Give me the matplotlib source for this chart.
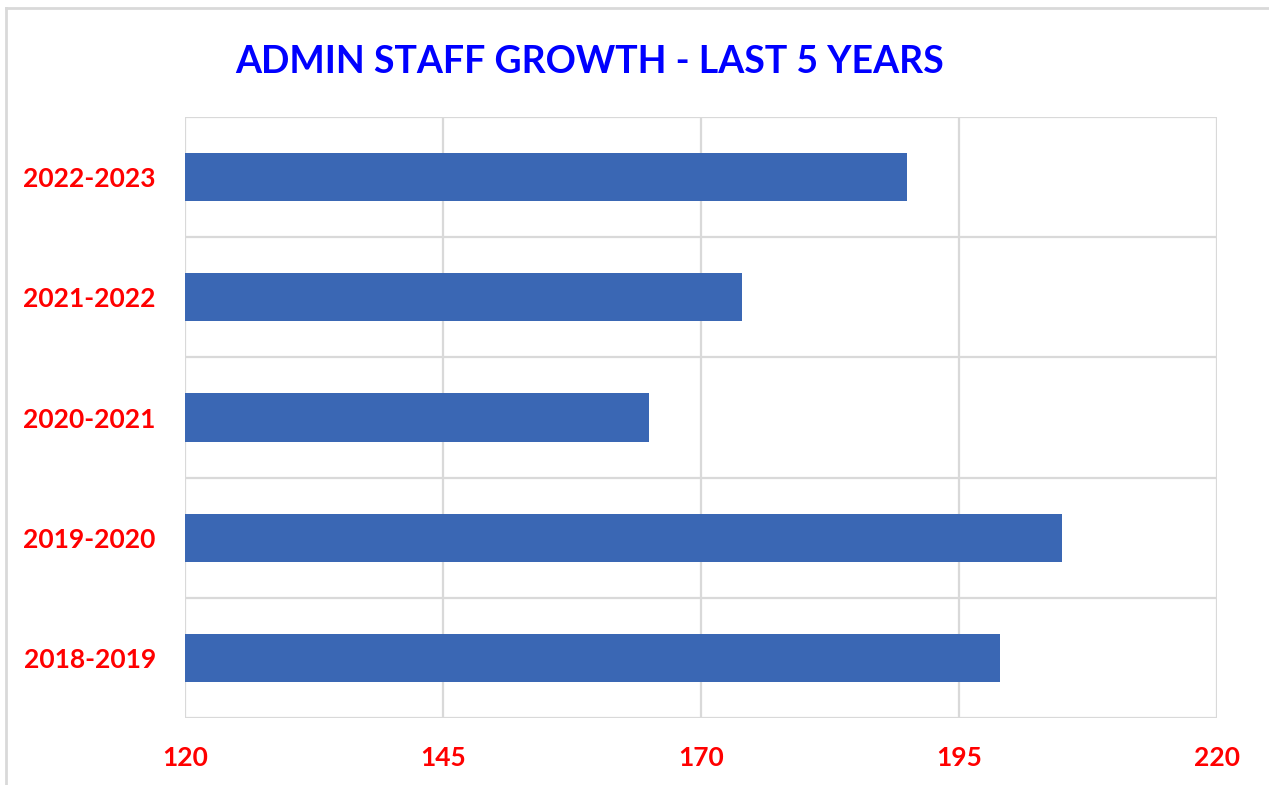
import matplotlib
matplotlib.use("Agg")
import matplotlib.pyplot as plt
from matplotlib.lines import Line2D

# values
years = ['2018-2019', '2019-2020', '2020-2021', '2021-2022', '2022-2023']
staff = [199, 205, 165, 174, 190]
xticks = [120, 145, 170, 195, 220]

plt.rcParams['font.family'] = ['Lato', 'DejaVu Sans']

fig = plt.figure(figsize=(12.69, 7.85), dpi=100)
ax = fig.add_axes([185/1269, 1-718/785, (1217-185)/1269, (718-117)/785])

ax.barh(years, staff, height=0.4, color='#3A67B4', zorder=3)
ax.set_xlim(120, 220)
ax.set_ylim(-0.5, 4.5)
ax.set_xticks(xticks)

# gridlines: vertical at ticks, horizontal between categories
for x in xticks:
    ax.axvline(x, color='#D9D9D9', lw=1.6, zorder=1)
for y in [-0.5, 0.5, 1.5, 2.5, 3.5, 4.5]:
    ax.axhline(y, color='#D9D9D9', lw=1.6, zorder=1)
for s in ax.spines.values():
    s.set_visible(False)

ax.tick_params(length=0)
ax.tick_params(axis='y', pad=21)
ax.tick_params(axis='x', pad=20)
for lab in ax.get_yticklabels() + ax.get_xticklabels():
    lab.set_color('#FF0000')
    lab.set_fontweight('bold')
    lab.set_fontsize(19)

fig.text(590/1269, 1-62/785, 'ADMIN STAFF GROWTH - LAST 5 YEARS', color='#0000FF',
         fontsize=27, fontweight='bold', ha='center', va='center')

# chart-area frame (top and left visible in the reference)
fig.add_artist(Line2D([6/1269, 6/1269], [0, 1-8/785], transform=fig.transFigure, color='#D9D9D9', lw=2))
fig.add_artist(Line2D([6/1269, 1], [1-8/785, 1-8/785], transform=fig.transFigure, color='#D9D9D9', lw=2))

fig.savefig('out.png', dpi=100)
